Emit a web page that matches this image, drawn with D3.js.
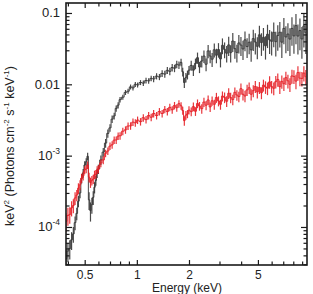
<!DOCTYPE html>
<html>
<head>
<meta charset="utf-8">
<script src="https://cdn.jsdelivr.net/npm/d3@7"></script>
<style>
  body { margin: 0; background: #fff; }
  svg { display: block; font-family: "Liberation Sans", Arial, sans-serif; }
</style>
</head>
<body>
<div id="chart"></div>
<script>
// bin centres (keV)
const energy = [
  0.39,0.40,0.41,0.42,0.43,0.44,0.45,0.46,0.47,0.48,0.49,0.50,0.51,0.52,0.53,0.54,0.55,0.56,0.57,0.58,0.59,0.60,
  0.62,0.64,0.66,0.68,0.70,0.72,0.74,0.76,0.78,0.80,
  0.83,0.86,0.89,0.92,0.95,0.98,
  1.01,1.05,1.09,1.13,1.17,1.21,1.25,
  1.30,1.35,1.40,1.45,1.50,1.55,1.60,1.65,1.70,1.75,1.80,
  1.84,1.88,1.92,1.96,2.00,
  2.06,2.12,2.18,2.24,2.30,
  2.37,2.44,2.51,2.58,2.65,2.72,
  2.80,2.88,2.96,3.04,3.12,
  3.21,3.30,3.39,3.48,
  3.58,3.68,3.78,3.88,
  3.99,4.10,4.21,
  4.33,4.45,4.57,
  4.70,4.83,4.96,
  5.10,5.24,5.38,
  5.53,5.68,5.84,
  6.00,6.17,6.34,6.51,6.69,6.87,
  7.06,7.25,7.45,7.65,7.86,
  8.07,8.29,8.51,8.74,8.97,
  9.21,9.45
];

// black spectrum, keV^2 (Photons cm^-2 s^-1 keV^-1)
const blackFlux = [
  3.6e-5,4.6e-5,5.0e-5,6.6e-5,8.0e-5,1.15e-4,1.55e-4,2.3e-4,3.0e-4,4.8e-4,5.7e-4,7.4e-4,8.2e-4,9.8e-4,2.4e-4,1.7e-4,2.05e-4,2.6e-4,3.6e-4,4.5e-4,5.7e-4,6.5e-4,
  8.7e-4,1.12e-3,1.5e-3,2.05e-3,2.45e-3,3.25e-3,3.6e-3,4.6e-3,5.1e-3,6.1e-3,
  6.6e-3,7.7e-3,8.0e-3,9.2e-3,8.9e-3,1.0e-2,
  0.0098,0.0106,0.0104,0.0113,0.0112,0.0121,0.0119,
  0.0130,0.0127,0.0142,0.0139,0.0157,0.0152,0.0172,0.0168,0.0191,0.0186,0.0203,
  0.0150,0.0106,0.0125,0.0136,0.0158,
  0.0184,0.0158,0.0196,0.0236,0.0175,
  0.0212,0.0249,0.0191,0.0294,0.0249,0.0225,
  0.0305,0.0256,0.0307,0.0227,0.0352,
  0.0309,0.0273,0.0357,0.0278,
  0.0404,0.0316,0.0280,0.0380,
  0.0355,0.0313,0.0420,
  0.0338,0.0389,0.0304,
  0.0437,0.0392,0.0341,
  0.0494,0.0385,0.0456,
  0.0347,0.0503,0.0421,
  0.0401,0.0534,0.0396,0.0483,0.0537,0.0390,
  0.0608,0.0461,0.0507,0.0431,0.0608,
  0.0477,0.0665,0.0475,0.0567,0.0432,
  0.0658,0.0530
];
// relative 1-sigma errors
const blackErr = [
  0.35,0.3,0.3,0.28,0.25,0.22,0.2,0.18,0.16,0.15,0.14,0.13,0.12,0.12,0.28,0.3,0.25,0.22,0.18,0.16,0.15,0.15,
  0.15,0.14,0.14,0.13,0.12,0.12,0.11,0.1,0.1,0.09,
  0.08,0.08,0.08,0.08,0.08,0.08,
  0.08,0.08,0.09,0.09,0.09,0.09,0.1,
  0.1,0.1,0.11,0.11,0.11,0.12,0.12,0.12,0.12,0.12,0.12,
  0.14,0.16,0.15,0.14,0.14,
  0.16,0.17,0.17,0.18,0.18,
  0.19,0.2,0.2,0.21,0.21,0.22,
  0.22,0.23,0.23,0.24,0.25,
  0.25,0.26,0.3,0.27,
  0.3,0.28,0.28,0.29,
  0.3,0.3,0.31,
  0.31,0.32,0.32,
  0.33,0.33,0.34,
  0.34,0.35,0.35,
  0.36,0.36,0.37,
  0.37,0.38,0.38,0.39,0.39,0.4,
  0.4,0.41,0.42,0.42,0.43,
  0.44,0.45,0.45,0.47,0.47,
  0.5,0.5
];

// red spectrum
const redFlux = [
  1.2e-4,1.45e-4,1.5e-4,1.85e-4,2.0e-4,2.55e-4,2.8e-4,3.5e-4,3.9e-4,4.85e-4,5.2e-4,6.3e-4,6.5e-4,7.4e-4,5.0e-4,4.2e-4,4.5e-4,4.7e-4,5.4e-4,5.5e-4,6.3e-4,6.5e-4,
  7.9e-4,8.7e-4,1.08e-3,1.16e-3,1.36e-3,1.42e-3,1.65e-3,1.66e-3,1.88e-3,1.9e-3,
  2.2e-3,2.3e-3,2.6e-3,2.62e-3,2.95e-3,2.88e-3,
  3.15e-3,3.0e-3,3.4e-3,3.2e-3,3.65e-3,3.45e-3,3.9e-3,
  3.65e-3,4.15e-3,3.9e-3,4.45e-3,4.15e-3,4.75e-3,4.4e-3,5.05e-3,4.7e-3,5.35e-3,5.0e-3,
  4.3e-3,3.1e-3,3.7e-3,3.85e-3,4.35e-3,
  4.14e-3,4.86e-3,4.19e-3,5.38e-3,4.96e-3,
  4.56e-3,5.64e-3,5.09e-3,6.04e-3,4.82e-3,5.88e-3,
  5.25e-3,6.54e-3,5.84e-3,5.24e-3,6.84e-3,
  6.56e-3,5.79e-3,7.5e-3,6.52e-3,
  6.11e-3,7.72e-3,7.08e-3,6.73e-3,
  8.68e-3,7.25e-3,6.86e-3,
  8.35e-3,8.95e-3,7.25e-3,
  8.15e-3,9.32e-3,7.83e-3,
  9.03e-3,7.63e-3,9.76e-3,
  9.17e-3,8.81e-3,1.08e-2,
  9.29e-3,8.8e-3,1.09e-2,1.17e-2,9.26e-3,1.1e-2,
  1.02e-2,1.24e-2,1.12e-2,1.0e-2,1.31e-2,
  1.29e-2,1.11e-2,1.46e-2,1.22e-2,1.21e-2,
  1.44e-2,1.28e-2
];
const redErr = [
  0.3,0.28,0.26,0.24,0.22,0.2,0.18,0.17,0.16,0.15,0.14,0.13,0.13,0.12,0.15,0.16,0.15,0.15,0.14,0.14,0.13,0.13,
  0.13,0.13,0.12,0.12,0.12,0.12,0.12,0.12,0.12,0.12,
  0.12,0.12,0.12,0.12,0.12,0.12,
  0.12,0.12,0.12,0.12,0.12,0.12,0.12,
  0.12,0.12,0.12,0.12,0.12,0.12,0.12,0.12,0.12,0.12,0.12,
  0.13,0.15,0.14,0.13,0.13,
  0.14,0.14,0.14,0.14,0.14,
  0.15,0.15,0.15,0.15,0.15,0.15,
  0.16,0.16,0.16,0.16,0.16,
  0.17,0.17,0.17,0.17,
  0.17,0.17,0.17,0.17,
  0.18,0.18,0.18,
  0.18,0.18,0.18,
  0.19,0.19,0.19,
  0.19,0.19,0.19,
  0.2,0.2,0.2,
  0.2,0.2,0.2,0.21,0.21,0.21,
  0.21,0.21,0.22,0.22,0.22,
  0.22,0.23,0.23,0.23,0.23,
  0.24,0.24
];

const xTickValues = [0.5, 1, 2, 5];
const xTickLabels = ["0.5", "1", "2", "5"];
const xMinorValues = [0.4, 0.6, 0.7, 0.8, 0.9, 3, 4, 6, 7, 8, 9];
const yTickValues = [1e-4, 1e-3, 1e-2, 1e-1];
const yTickLabels = [["10", "-4"], ["10", "-3"], ["0.01", ""], ["0.1", ""]];

const width = 313, height = 294;
const pLeft = 66, pRight = 307, pTop = 3, pBottom = 265;

const svg = d3.select("#chart").append("svg")
  .attr("width", width)
  .attr("height", height);

const x = d3.scaleLog().domain([0.39, 9.6]).range([pLeft, pRight]);
const y = d3.scaleLog().domain([2.93e-5, 0.138]).range([pBottom, pTop]);

// minor y ticks: 2..9 in each decade
let yMinor = [];
[1e-5, 1e-4, 1e-3, 1e-2].forEach(function(d){
  for (let m = 2; m <= 9; m++) {
    let v = d * m;
    if (v > y.domain()[0] && v < y.domain()[1]) yMinor.push(v);
  }
});

svg.append("clipPath").attr("id", "plot-clip")
  .append("rect")
  .attr("x", pLeft).attr("y", pTop)
  .attr("width", pRight - pLeft).attr("height", pBottom - pTop);

const plot = svg.append("g").attr("clip-path", "url(#plot-clip)");

function drawSpectrum(flux, err, color, opacity){
  let pts = energy.map(function(e, i){ return {e: e, v: flux[i], err: err[i]}; });
  let g = plot.append("g")
    .attr("stroke", color)
    .attr("stroke-opacity", opacity)
    .attr("fill", "none");

  g.selectAll(".ebar")
    .data(pts)
    .enter().append("line")
    .attr("class", "ebar")
    .attr("x1", function(d){ return x(d.e); })
    .attr("x2", function(d){ return x(d.e); })
    .attr("y1", function(d){ return y(d.v * (1 + d.err)); })
    .attr("y2", function(d){ return y(Math.max(d.v * (1 - d.err), 1e-6)); })
    .attr("stroke-width", 1.2);

  let line = d3.line()
    .x(function(d){ return x(d.e); })
    .y(function(d){ return y(d.v); })
    .curve(d3.curveStep);

  g.append("path")
    .datum(pts)
    .attr("d", line)
    .attr("stroke-width", 1);
}

drawSpectrum(blackFlux, blackErr, "#353535", 0.9);
drawSpectrum(redFlux, redErr, "#e61f26", 0.9);

// frame
svg.append("rect")
  .attr("x", pLeft).attr("y", pTop)
  .attr("width", pRight - pLeft).attr("height", pBottom - pTop)
  .attr("fill", "none")
  .attr("stroke", "#1a1a1a")
  .attr("stroke-width", 1.6);

const tickColor = "#1a1a1a";

// bottom axis
let xAxis = svg.append("g").attr("transform", "translate(0," + pBottom + ")")
  .call(d3.axisBottom(x).tickValues(xTickValues).tickSize(-5).tickPadding(5)
    .tickFormat(function(d, i){ return xTickLabels[i]; }));
xAxis.select(".domain").remove();
xAxis.selectAll("line").attr("stroke", tickColor).attr("stroke-width", 1.2);
xAxis.selectAll("text").attr("font-size", 12).attr("fill", "#222").attr("font-family", "Liberation Sans, Arial, sans-serif");

let xAxisMinor = svg.append("g").attr("transform", "translate(0," + pBottom + ")")
  .call(d3.axisBottom(x).tickValues(xMinorValues).tickSize(-3.5).tickFormat(""));
xAxisMinor.select(".domain").remove();
xAxisMinor.selectAll("line").attr("stroke", tickColor).attr("stroke-width", 1.2);

// top axis (mirror)
let xTop = svg.append("g").attr("transform", "translate(0," + pTop + ")")
  .call(d3.axisTop(x).tickValues(xTickValues).tickSize(-5).tickFormat(""));
xTop.select(".domain").remove();
xTop.selectAll("line").attr("stroke", tickColor).attr("stroke-width", 1.2);
let xTopMinor = svg.append("g").attr("transform", "translate(0," + pTop + ")")
  .call(d3.axisTop(x).tickValues(xMinorValues).tickSize(-3.5).tickFormat(""));
xTopMinor.select(".domain").remove();
xTopMinor.selectAll("line").attr("stroke", tickColor).attr("stroke-width", 1.2);

// left axis
let yAxis = svg.append("g").attr("transform", "translate(" + pLeft + ",0)")
  .call(d3.axisLeft(y).tickValues(yTickValues).tickSize(-6).tickFormat(""));
yAxis.select(".domain").remove();
yAxis.selectAll("line").attr("stroke", tickColor).attr("stroke-width", 1.2);

let yAxisMinor = svg.append("g").attr("transform", "translate(" + pLeft + ",0)")
  .call(d3.axisLeft(y).tickValues(yMinor).tickSize(-3.5).tickFormat(""));
yAxisMinor.select(".domain").remove();
yAxisMinor.selectAll("line").attr("stroke", tickColor).attr("stroke-width", 1.2);

// right axis (mirror)
let yRight = svg.append("g").attr("transform", "translate(" + pRight + ",0)")
  .call(d3.axisRight(y).tickValues(yTickValues).tickSize(-6).tickFormat(""));
yRight.select(".domain").remove();
yRight.selectAll("line").attr("stroke", tickColor).attr("stroke-width", 1.2);
let yRightMinor = svg.append("g").attr("transform", "translate(" + pRight + ",0)")
  .call(d3.axisRight(y).tickValues(yMinor).tickSize(-3.5).tickFormat(""));
yRightMinor.select(".domain").remove();
yRightMinor.selectAll("line").attr("stroke", tickColor).attr("stroke-width", 1.2);

// y tick labels with superscripts
let yLabels = svg.append("g").attr("font-size", 13).attr("fill", "#222");
yTickValues.forEach(function(v, i){
  let t = yLabels.append("text")
    .attr("x", 60)
    .attr("y", y(v) + 4.5)
    .attr("text-anchor", "end");
  t.append("tspan").text(yTickLabels[i][0]);
  if (yTickLabels[i][1]) {
    t.append("tspan").attr("font-size", 8.5).attr("dy", -6).text(yTickLabels[i][1]);
  }
});

// axis titles
svg.append("text")
  .attr("x", 187)
  .attr("y", 292)
  .attr("text-anchor", "middle")
  .attr("font-size", 12)
  .attr("fill", "#222")
  .text("Energy (keV)");

let yTitle = svg.append("text")
  .attr("transform", "translate(14," + 146 + ") rotate(-90)")
  .attr("text-anchor", "middle")
  .attr("font-size", 12.5)
  .attr("fill", "#222");
yTitle.append("tspan").text("keV");
yTitle.append("tspan").attr("font-size", 8).attr("dy", -5).text("2");
yTitle.append("tspan").attr("dy", 5).text(" (Photons cm");
yTitle.append("tspan").attr("font-size", 8).attr("dy", -5).text("-2");
yTitle.append("tspan").attr("dy", 5).text(" s");
yTitle.append("tspan").attr("font-size", 8).attr("dy", -5).text("-1");
yTitle.append("tspan").attr("dy", 5).text(" keV");
yTitle.append("tspan").attr("font-size", 8).attr("dy", -5).text("-1");
yTitle.append("tspan").attr("dy", 5).text(")");
</script>
</body>
</html>
